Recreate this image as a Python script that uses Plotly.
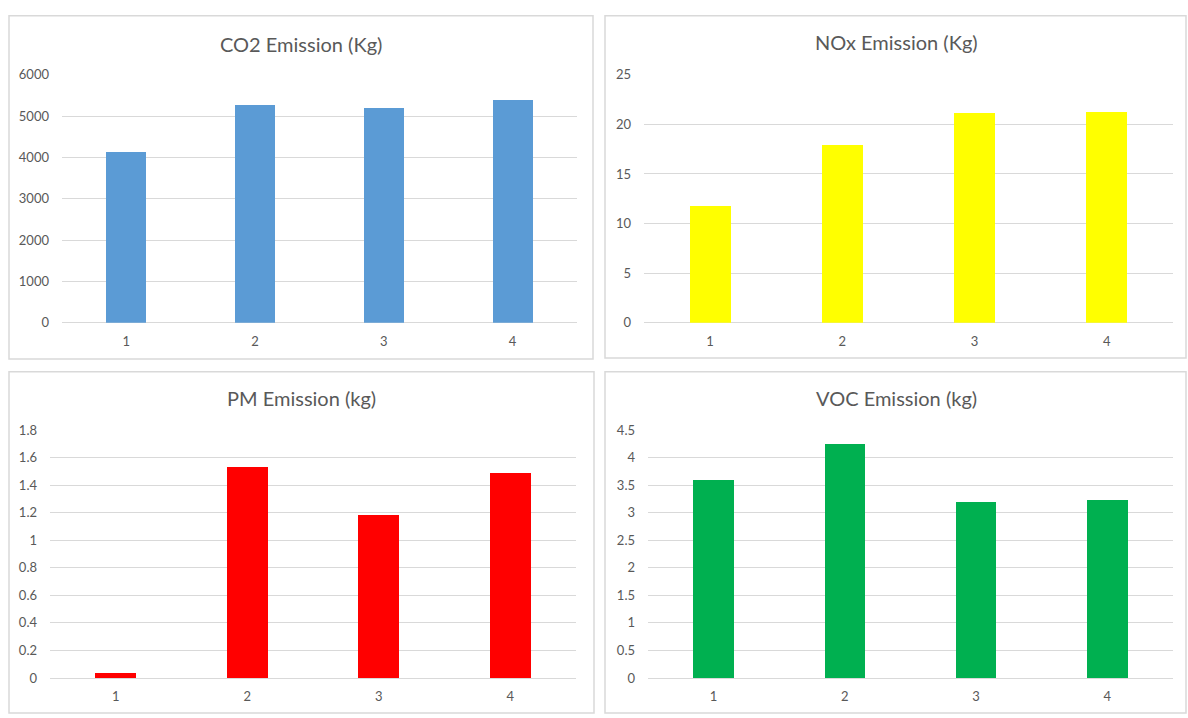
import plotly.graph_objects as go

W, H = 1188, 718

categories = [1, 2, 3, 4]
co2_values = [4140, 5270, 5205, 5400]
nox_values = [11.8, 17.9, 21.2, 21.3]
pm_values = [0.035, 1.535, 1.185, 1.49]
voc_values = [3.595, 4.245, 3.187, 3.229]

titles = ["CO2 Emission (Kg)", "NOx Emission (Kg)", "PM Emission (kg)", "VOC Emission (kg)"]
colors = ["#5B9BD5", "#FFFF00", "#FF0000", "#00B050"]
y_ranges = [[0, 6000], [0, 25], [0, 1.8], [0, 4.5]]
y_dticks = [1000, 5, 0.2, 0.5]
series = [co2_values, nox_values, pm_values, voc_values]

# layout in pixels
plots = [  # x0, x1, ytop, ybottom
    (62, 577, 68.3, 322),
    (644, 1173, 68.3, 322),
    (50, 576, 431.7, 685.3),
    (648, 1173, 431.7, 685.3),
]
boxes = [  # x0, x1, y0, y1
    (9, 593, 8, 359),
    (605, 1186, 8, 358),
    (9, 594, 372, 721),
    (605, 1186, 372, 721),
]
title_pos = [(301, 37), (896, 35), (301, 399), (896, 399)]

def px(x):
    return x / W

def py(y):
    return 1 - y / H

fig = go.Figure()
FONT = "Lato"
TXT = "#595959"
GRID = "#D9D9D9"

for i in range(4):
    xa = "x" if i == 0 else f"x{i+1}"
    ya = "y" if i == 0 else f"y{i+1}"
    fig.add_trace(go.Bar(
        x=categories, y=series[i], marker=dict(color=colors[i], line=dict(width=0)),
        width=0.31, xaxis=xa, yaxis=ya, showlegend=False, hoverinfo="skip",
    ))
    x0, x1, yt, yb = plots[i]
    xk = "xaxis" if i == 0 else f"xaxis{i+1}"
    yk = "yaxis" if i == 0 else f"yaxis{i+1}"
    fig.layout[xk] = dict(
        domain=[px(x0), px(x1)], anchor=ya, range=[0.5, 4.5],
        tickvals=categories, ticktext=[str(c) for c in categories],
        showgrid=False, zeroline=False, showline=False, ticks="",
        ticklabelstandoff=9,
        tickfont=dict(family=FONT, size=13, color=TXT), fixedrange=True,
    )
    fig.layout[yk] = dict(
        domain=[py(yb), py(yt)], anchor=xa, range=y_ranges[i], dtick=y_dticks[i],
        tick0=0, showgrid=True, gridcolor=GRID, gridwidth=1,
        zeroline=True, zerolinecolor=GRID, zerolinewidth=1,
        showline=False, ticks="", ticklabelstandoff=12,
        tickfont=dict(family=FONT, size=13, color=TXT), fixedrange=True,
    )
    bx0, bx1, by0, by1 = boxes[i]
    fig.add_shape(type="rect", xref="paper", yref="paper",
                  x0=px(bx0), x1=px(bx1), y0=py(by1), y1=py(by0),
                  line=dict(color=GRID, width=1.5), fillcolor="rgba(0,0,0,0)", layer="below")
    tx, ty = title_pos[i]
    fig.add_annotation(text=titles[i], xref="paper", yref="paper", x=px(tx), y=py(ty),
                       xanchor="center", yanchor="middle", showarrow=False,
                       font=dict(family=FONT, size=20, color=TXT))

fig.update_layout(
    width=W, height=H, margin=dict(l=0, r=0, t=0, b=0),
    paper_bgcolor="white", plot_bgcolor="white", bargap=0,
)

fig.write_html(
    "out.html",
    config={"displayModeBar": False},
    post_script=(
        "document.documentElement.style.margin='0px';"
        "document.body.style.margin='0px';"
        "document.body.style.overflow='hidden';"
        "var d=document.getElementById('{plot_id}');"
        "d.style.position='fixed';d.style.top='0px';d.style.left='0px';"
    ),
)
